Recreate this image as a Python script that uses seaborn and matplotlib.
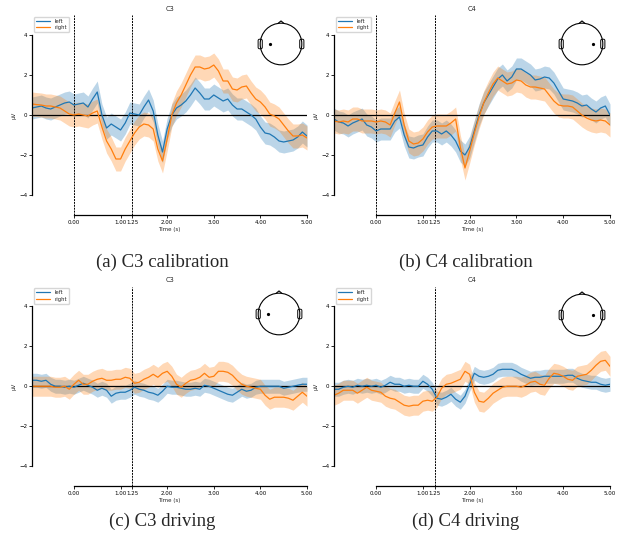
import numpy as np
import pandas as pd
import matplotlib
matplotlib.use("Agg")
import matplotlib.pyplot as plt
from matplotlib.patches import Circle, Polygon, FancyBboxPatch
import seaborn as sns

# ---------------- data ----------------
times = np.round(np.arange(-0.9, 5.001, 0.1), 2)

c3_cal_left = [0.35, 0.4, 0.45, 0.35, 0.3, 0.4, 0.5, 0.6, 0.65, 0.5,
               0.55, 0.6, 0.4, 0.8, 1.15, 0.0, -0.65, -0.45, -0.6, -0.75,
               -0.4, 0.1, 0.05, 0.0, 0.4, 0.75, 0.2, -1.0, -1.85, -0.7,
               0.0, 0.35, 0.5, 0.7, 1.0, 1.35, 1.1, 0.8, 0.8, 1.0,
               0.85, 0.7, 0.8, 0.5, 0.3, 0.3, 0.15, 0.0, -0.2, -0.6,
               -0.9, -0.95, -1.1, -1.3, -1.35, -1.3, -1.25, -1.1, -0.85, -1.05]
c3_cal_right = [0.55, 0.52, 0.5, 0.45, 0.45, 0.4, 0.35, 0.2, 0.05, 0.0,
                0.05, 0.0, -0.05, 0.1, 0.2, -0.6, -1.3, -1.7, -2.2, -2.2,
                -1.7, -1.3, -0.9, -0.6, -0.45, -0.5, -0.7, -1.7, -2.3, -1.2,
                0.0, 0.6, 1.0, 1.5, 2.0, 2.4, 2.4, 2.3, 2.35, 2.5,
                2.2, 1.7, 1.7, 1.3, 1.25, 1.4, 1.45, 1.1, 0.8, 0.65,
                0.4, 0.05, -0.05, -0.2, -0.5, -0.8, -1.05, -1.05, -1.0, -1.15]
c4_cal_left = [-0.2, -0.35, -0.4, -0.55, -0.4, -0.3, -0.2, -0.5, -0.6, -0.8,
               -0.7, -0.7, -0.7, -0.3, -0.1, -1.0, -1.6, -1.65, -1.55, -1.5,
               -1.1, -0.8, -0.8, -0.95, -0.8, -1.0, -1.3, -1.8, -2.0, -1.6,
               -0.8, 0.0, 0.6, 1.0, 1.4, 1.8, 2.0, 1.7, 1.9, 2.3,
               2.3, 2.15, 2.0, 1.75, 1.8, 1.9, 1.85, 1.6, 1.2, 0.8,
               0.75, 0.7, 0.6, 0.45, 0.5, 0.3, 0.15, 0.35, 0.45, 0.0]
c4_cal_right = [-0.3, -0.35, -0.3, -0.35, -0.2, -0.2, -0.3, -0.3, -0.3, -0.35,
                -0.3, -0.35, -0.5, 0.1, 0.65, -0.5, -1.3, -1.45, -1.4, -1.2,
                -0.85, -0.6, -0.55, -0.55, -0.55, -0.4, -0.2, -1.6, -2.65, -1.8,
                -0.9, -0.1, 0.6, 1.1, 1.55, 1.85, 1.7, 1.55, 1.6, 1.75,
                1.7, 1.5, 1.4, 1.4, 1.35, 1.3, 1.0, 0.7, 0.5, 0.45,
                0.45, 0.4, 0.2, 0.0, -0.15, -0.25, -0.3, -0.25, -0.3, -0.5]
c3_drv_left = [0.3, 0.3, 0.25, 0.3, 0.1, 0.0, 0.0, -0.05, 0.0, -0.05,
               0.05, 0.15, 0.05, -0.05, -0.2, -0.1, -0.2, -0.5, -0.35, -0.3,
               -0.3, -0.2, -0.05, -0.15, -0.2, -0.3, -0.35, -0.45, -0.25, 0.0,
               -0.05, -0.05, -0.1, -0.15, -0.15, -0.1, -0.15, 0.05, 0.0, -0.1,
               -0.2, -0.3, -0.4, -0.45, -0.3, -0.15, -0.25, -0.2, -0.05, 0.0,
               0.0, 0.0, 0.0, 0.0, -0.1, -0.05, 0.0, 0.05, 0.1, 0.1]
c3_drv_right = [0.0, 0.0, 0.0, 0.0, 0.0, -0.05, -0.05, 0.0, -0.15, 0.1,
                0.3, 0.1, 0.1, 0.25, 0.35, 0.4, 0.3, 0.3, 0.35, 0.35,
                0.45, 0.4, 0.15, 0.2, 0.35, 0.45, 0.6, 0.45, 0.65, 0.75,
                0.5, 0.1, -0.05, 0.15, 0.3, 0.35, 0.45, 0.65, 0.45, 0.5,
                0.75, 0.75, 0.7, 0.55, 0.3, 0.1, 0.0, -0.05, -0.1, -0.15,
                -0.45, -0.65, -0.55, -0.55, -0.55, -0.6, -0.7, -0.5, -0.3, -0.5]
c4_drv_left = [-0.15, -0.15, -0.05, 0.0, -0.05, 0.05, 0.0, 0.05, 0.0, 0.05,
               -0.05, 0.05, 0.2, 0.1, 0.1, 0.0, 0.05, 0.0, 0.0, 0.25,
               0.1, -0.15, -0.6, -0.65, -0.55, -0.4, -0.65, -0.8, -0.5, 0.1,
               0.65, 0.5, 0.45, 0.5, 0.6, 0.8, 0.85, 0.85, 0.85, 0.75,
               0.6, 0.5, 0.4, 0.45, 0.45, 0.5, 0.5, 0.5, 0.5, 0.5,
               0.55, 0.55, 0.4, 0.3, 0.25, 0.2, 0.2, 0.1, 0.05, 0.1]
c4_drv_right = [-0.45, -0.35, -0.2, -0.2, -0.2, -0.35, -0.2, -0.05, -0.2, -0.25,
                -0.3, -0.5, -0.6, -0.65, -0.8, -0.95, -1.0, -0.95, -0.95, -0.75,
                -0.7, -0.75, -0.55, -0.1, 0.1, 0.15, 0.25, 0.35, 0.75, 0.6,
                -0.3, -0.75, -0.8, -0.6, -0.35, -0.2, -0.05, 0.0, 0.0, 0.0,
                -0.05, 0.05, 0.2, 0.25, 0.1, 0.05, 0.4, 0.65, 0.6, 0.5,
                0.35, 0.3, 0.5, 0.55, 0.6, 0.8, 1.05, 1.25, 1.3, 1.0]

# confidence band half-widths (µV)
ci_cal_left, ci_cal_right = 0.55, 0.6
ci_drv_left, ci_drv_right = 0.35, 0.5

conditions = ["left", "right"]
channels = ["C3", "C4", "C3", "C4"]
captions = ["(a) C3 calibration", "(b) C4 calibration",
            "(c) C3 driving", "(d) C4 driving"]
event_lines = [[0.0, 1.25], [0.0, 1.25], [1.25], [1.25]]
xticks = [0.0, 1.0, 1.25, 2.0, 3.0, 4.0, 5.0]
xticklabels = ["0.00", "1.00", "1.25", "2.00", "3.00", "4.00", "5.00"]
yticks = [-4, -2, 0, 2, 4]
yticklabels = ["\u22124", "\u22122", "0", "2", "4"]

panels = [
    (c3_cal_left, c3_cal_right, ci_cal_left, ci_cal_right),
    (c4_cal_left, c4_cal_right, ci_cal_left, ci_cal_right),
    (c3_drv_left, c3_drv_right, ci_drv_left, ci_drv_right),
    (c4_drv_left, c4_drv_right, ci_drv_left, ci_drv_right),
]

# ---------------- style ----------------
sns.set_style("white")
plt.rcParams["font.family"] = ["DejaVu Sans"]
colors = {"left": "#1f77b4", "right": "#ff7f0e"}

fig = plt.figure(figsize=(6.2, 5.42), dpi=100)

W, H = 620.0, 542.0
ax_boxes = [
    (32, 15, 275, 200),
    (334, 15, 276, 200),
    (32, 286.5, 275, 199.5),
    (334, 286.5, 276, 199.5),
]
head_centers = [(281, 44), (582, 44), (279, 314), (582, 315)]
caption_pos = [(162, 262), (466, 262), (162, 521), (466, 521)]

for i, (lv, rv, lci, rci) in enumerate(panels):
    x0, y0, w, h = ax_boxes[i]
    ax = fig.add_axes([x0 / W, 1 - (y0 + h) / H, w / W, h / H])
    df = pd.DataFrame({
        "time": np.concatenate([times, times]),
        "value": np.concatenate([lv, rv]),
        "condition": ["left"] * len(times) + ["right"] * len(times),
    })
    ci = {"left": lci, "right": rci}
    for cond in conditions:
        sub = df[df["condition"] == cond]
        ax.fill_between(sub["time"], sub["value"] - ci[cond],
                        sub["value"] + ci[cond], color=colors[cond],
                        alpha=0.3, linewidth=0)
    sns.lineplot(data=df, x="time", y="value", hue="condition",
                 palette=colors, linewidth=0.9, ax=ax, legend=False)
    ax.axhline(0, color="black", linewidth=0.9, zorder=1)
    for t in event_lines[i]:
        ax.axvline(t, color="black", linewidth=0.7,
                   linestyle=(0, (2, 1)), zorder=1)
    ax.set_xlim(-0.9, 5.0)
    ax.set_ylim(-5.0, 5.0)
    ax.set_xticks(xticks)
    ax.set_xticklabels(xticklabels)
    ax.set_yticks(yticks)
    ax.set_yticklabels(yticklabels)
    ax.tick_params(labelsize=4.0, length=2, width=0.6, pad=1.5,
                   bottom=True, left=True, colors="black")
    for s in ["top", "right"]:
        ax.spines[s].set_visible(False)
    ax.spines["left"].set_bounds(-4, 4)
    ax.spines["bottom"].set_bounds(0, 5)
    for s in ["left", "bottom"]:
        ax.spines[s].set_linewidth(0.9)
        ax.spines[s].set_color("black")
    ax.set_xlabel("Time (s)", fontsize=4.0, labelpad=1.5)
    ax.set_ylabel("\u00b5V", fontsize=4.0, labelpad=2)
    ax.set_title(channels[i], fontsize=4.8, pad=3)
    handles = [plt.Line2D([], [], color=colors[c], linewidth=0.9)
               for c in conditions]
    ax.legend(handles, conditions, loc="upper left", fontsize=3.8,
              frameon=True, borderaxespad=0.3, handlelength=2.8,
              borderpad=0.4, labelspacing=0.3, framealpha=0.8,
              edgecolor="#cccccc", fancybox=True)

    # head inset
    hx, hy = head_centers[i]
    r = 21
    hax = fig.add_axes([(hx - r - 5) / W, 1 - (hy + r + 5) / H,
                        (2 * r + 10) / W, (2 * r + 10) / H])
    hax.set_xlim(-1.25, 1.25)
    hax.set_ylim(-1.25, 1.25)
    hax.set_aspect("equal")
    hax.axis("off")
    hax.add_patch(Circle((0, 0), 1.0, fill=False, edgecolor="black",
                         linewidth=0.8))
    hax.add_patch(Polygon([(-0.14, 0.99), (0, 1.11), (0.14, 0.99)],
                          closed=False, fill=False, edgecolor="black",
                          linewidth=0.8))
    for sx in (-1, 1):
        hax.add_patch(FancyBboxPatch((sx * 1.0 - 0.07, -0.2), 0.14, 0.4,
                                     boxstyle="round,pad=0.03,rounding_size=0.07",
                                     fill=False, edgecolor="black",
                                     linewidth=0.7))
    dot_x = -0.52 if channels[i] == "C3" else 0.52
    hax.plot([dot_x], [0.0], "o", color="black", markersize=1.3)

    cx, cy = caption_pos[i]
    fig.text(cx / W, 1 - cy / H, captions[i], ha="center", va="center",
             fontsize=13.5, family=["Liberation Serif", "DejaVu Serif"])

fig.savefig("out.png", dpi=100)
